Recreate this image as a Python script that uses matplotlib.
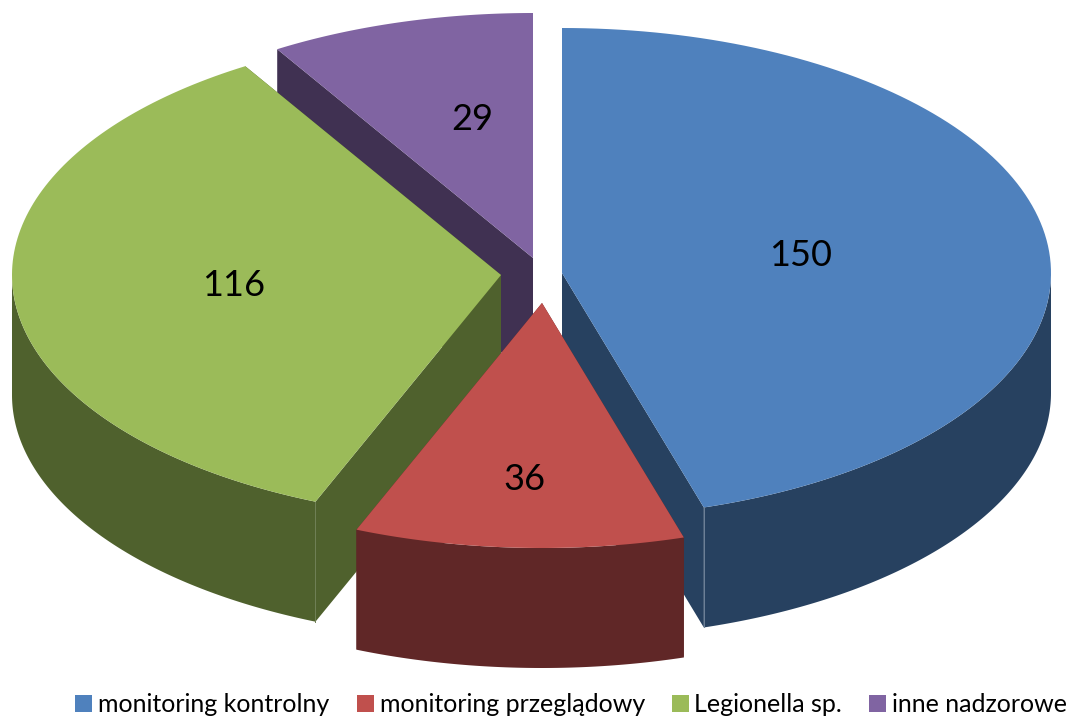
"""Wykres kołowy 3D (rozsunięty) - rysowany ręcznie jako wielokąty."""

import matplotlib

matplotlib.use("Agg")
import matplotlib.pyplot as plt
import numpy as np
from matplotlib.patches import Polygon, Rectangle

categories = ["monitoring kontrolny", "monitoring przeglądowy", "Legionella sp.", "inne nadzorowe"]
values = [150, 36, 116, 29]

top_colors = ["#4F81BD", "#C0504D", "#9BBB59", "#8064A2"]
side_colors = ["#274160", "#602727", "#4F612D", "#403152"]

# srodek kazdego wycinka po rozsunieciu (piksele)
centers = [(562, 273), (542, 303), (501, 275), (533, 258)]
label_pos = [(801, 255), (524, 479), (234, 285), (472, 119)]
legend_x = [75, 357, 672, 869]
RX, RY, DEPTH = 489, 245, 120


def _rim(cx, cy, a0, a1, n=120):
    # katy liczone od gory, zgodnie z zegarem
    t = np.radians(np.linspace(a0, a1, n))
    return np.column_stack([cx + RX * np.sin(t), cy - RY * np.cos(t)])


def _draw_slice(ax, c, a0, a1, top, side):
    cx, cy = c
    down = np.array([0, DEPTH])
    centre = np.array([[cx, cy]])
    rim = _rim(cx, cy, a0, a1)

    # sciany promieniowe
    for edge in (rim[0], rim[-1]):
        quad = np.vstack([centre, [edge], [edge + down], centre + down])
        ax.add_patch(Polygon(quad, closed=True, fc=side, ec="none"))

    # sciana zewnetrzna - tylko przednia czesc obrzeza
    lo, hi = max(a0, 90), min(a1, 270)
    if lo < hi:
        front = _rim(cx, cy, lo, hi)
        wall = np.vstack([front, (front + down)[::-1]])
        ax.add_patch(Polygon(wall, closed=True, fc=side, ec="none"))

    # jasniejsza krawedz miedzy sciana promieniowa a obrzezem
    for a, edge in ((a0, rim[0]), (a1, rim[-1])):
        if 90 < a < 270 and side != "#602727":
            ax.plot([edge[0], edge[0]], [edge[1], edge[1] + DEPTH],
                    color="#6f8298" if side == "#274160" else "#6f7f55", lw=0.7)

    ax.add_patch(Polygon(np.vstack([centre, rim]), closed=True, fc=top, ec="none"))


fig = plt.figure(figsize=(10.66, 7.17), dpi=100)
ax = fig.add_axes([0, 0, 1, 1])
ax.set_xlim(0, 1066)
ax.set_ylim(717, 0)
ax.axis("off")

edges = np.concatenate([[0], np.cumsum(values)]) / sum(values) * 360

# kolejnosc malowania: od tylu do przodu
for i in [3, 2, 0, 1]:
    _draw_slice(ax, centers[i], edges[i], edges[i + 1], top_colors[i], side_colors[i])

for val, (x, y) in zip(values, label_pos):
    ax.text(x, y, str(val), ha="center", va="center", fontsize=26, family="Lato", color="black")

for name, col, x in zip(categories, top_colors, legend_x):
    ax.add_patch(Rectangle((x, 695), 17, 17, fc=col, ec="none"))
    ax.text(x + 22.5, 705, name, ha="left", va="center", fontsize=18, family="Lato", color="black")

fig.savefig("out.png", dpi=100)
plt.close(fig)
